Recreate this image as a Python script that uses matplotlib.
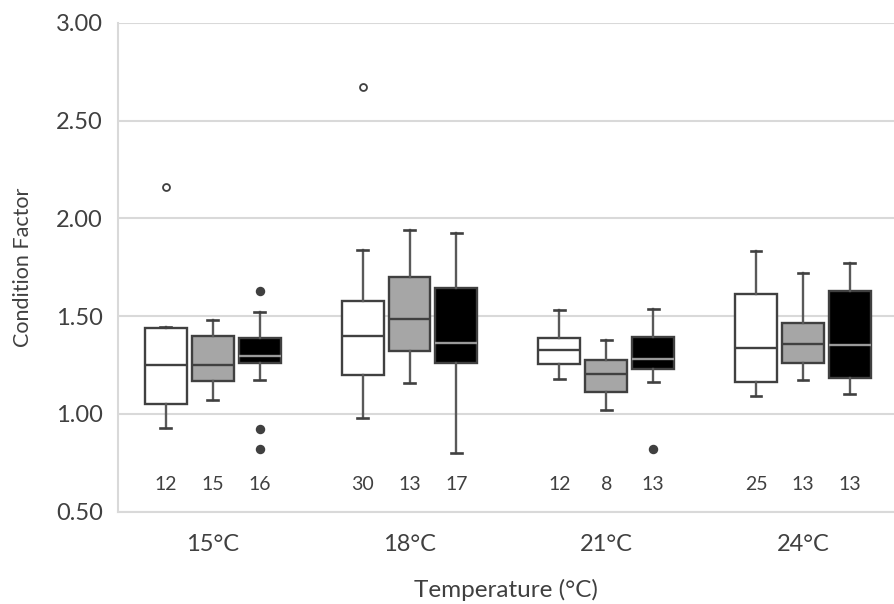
import matplotlib
matplotlib.use("Agg")
import matplotlib.pyplot as plt

groups = ["15°C", "18°C", "21°C", "24°C"]
n_counts = [12, 15, 16, 30, 13, 17, 12, 8, 13, 25, 13, 13]
whislo = [0.93, 1.07, 1.175, 0.98, 1.16, 0.80, 1.18, 1.02, 1.165, 1.09, 1.175, 1.10]
q1 = [1.05, 1.17, 1.26, 1.20, 1.32, 1.26, 1.255, 1.11, 1.23, 1.165, 1.26, 1.185]
med = [1.25, 1.25, 1.295, 1.40, 1.485, 1.365, 1.325, 1.205, 1.28, 1.335, 1.355, 1.35]
q3 = [1.44, 1.40, 1.39, 1.575, 1.70, 1.645, 1.39, 1.275, 1.395, 1.615, 1.465, 1.63]
whishi = [1.445, 1.48, 1.52, 1.84, 1.94, 1.925, 1.53, 1.38, 1.535, 1.835, 1.72, 1.77]
fliers = [[2.16], [], [1.63, 0.925, 0.82],
          [2.67], [], [],
          [], [], [0.82],
          [], [], []]

fills = ["white", "#a6a6a6", "black"]
median_colors = ["#404040", "#404040", "#9a9a9a"]
flier_faces = ["white", "#404040", "#404040"]

plt.rcParams['font.family'] = ['Lato', 'DejaVu Sans']

fig = plt.figure(figsize=(8.95, 6.04), dpi=100)
ax = fig.add_axes([0.1318, 0.153, 0.868, 0.809])

offset = 0.2386
width = 0.213
edge = "#404040"
for gi in range(len(groups)):
    for si in range(3):
        k = gi * 3 + si
        pos = gi + 1 + (si - 1) * offset
        stats = [dict(med=med[k], q1=q1[k], q3=q3[k], whislo=whislo[k],
                      whishi=whishi[k], fliers=fliers[k])]
        ax.bxp(stats, positions=[pos], widths=width, patch_artist=True,
               showfliers=True, manage_ticks=False,
               boxprops=dict(facecolor=fills[si], edgecolor=edge, linewidth=1.7),
               medianprops=dict(color=median_colors[si], linewidth=1.7),
               whiskerprops=dict(color="#595959", linewidth=1.7),
               capprops=dict(color="#404040", linewidth=1.9),
               capwidths=0.055,
               flierprops=dict(marker="o", markersize=5 if si == 0 else 5.5,
                               markerfacecolor=flier_faces[si],
                               markeredgecolor="#404040", markeredgewidth=1.3))
        ax.text(pos, 0.64, str(n_counts[k]), ha="center", va="center",
                fontsize=14, color="#404040")

ax.set_xlim(0.518, 4.467)
ax.set_ylim(0.5, 3.0)
ax.set_xticks(range(1, len(groups) + 1))
ax.set_xticklabels(groups)
ax.set_yticks([0.5, 1.0, 1.5, 2.0, 2.5, 3.0])
ax.set_yticklabels(["0.50", "1.00", "1.50", "2.00", "2.50", "3.00"])
ax.tick_params(axis="both", length=0, labelsize=17, colors="#404040")
ax.tick_params(axis="y", pad=11)
ax.tick_params(axis="x", pad=16)
ax.yaxis.grid(True, color="#d9d9d9", linewidth=1.5)
ax.set_axisbelow(True)
for s in ["top", "right"]:
    ax.spines[s].set_visible(False)
for s in ["left", "bottom"]:
    ax.spines[s].set_color("#d9d9d9")
    ax.spines[s].set_linewidth(1.5)

ax.set_ylabel("Condition Factor", fontsize=15.5, color="#404040", labelpad=16)
ax.set_xlabel("Temperature (°C)", fontsize=17.5, color="#404040", labelpad=17)

fig.savefig("out.png", dpi=100)
